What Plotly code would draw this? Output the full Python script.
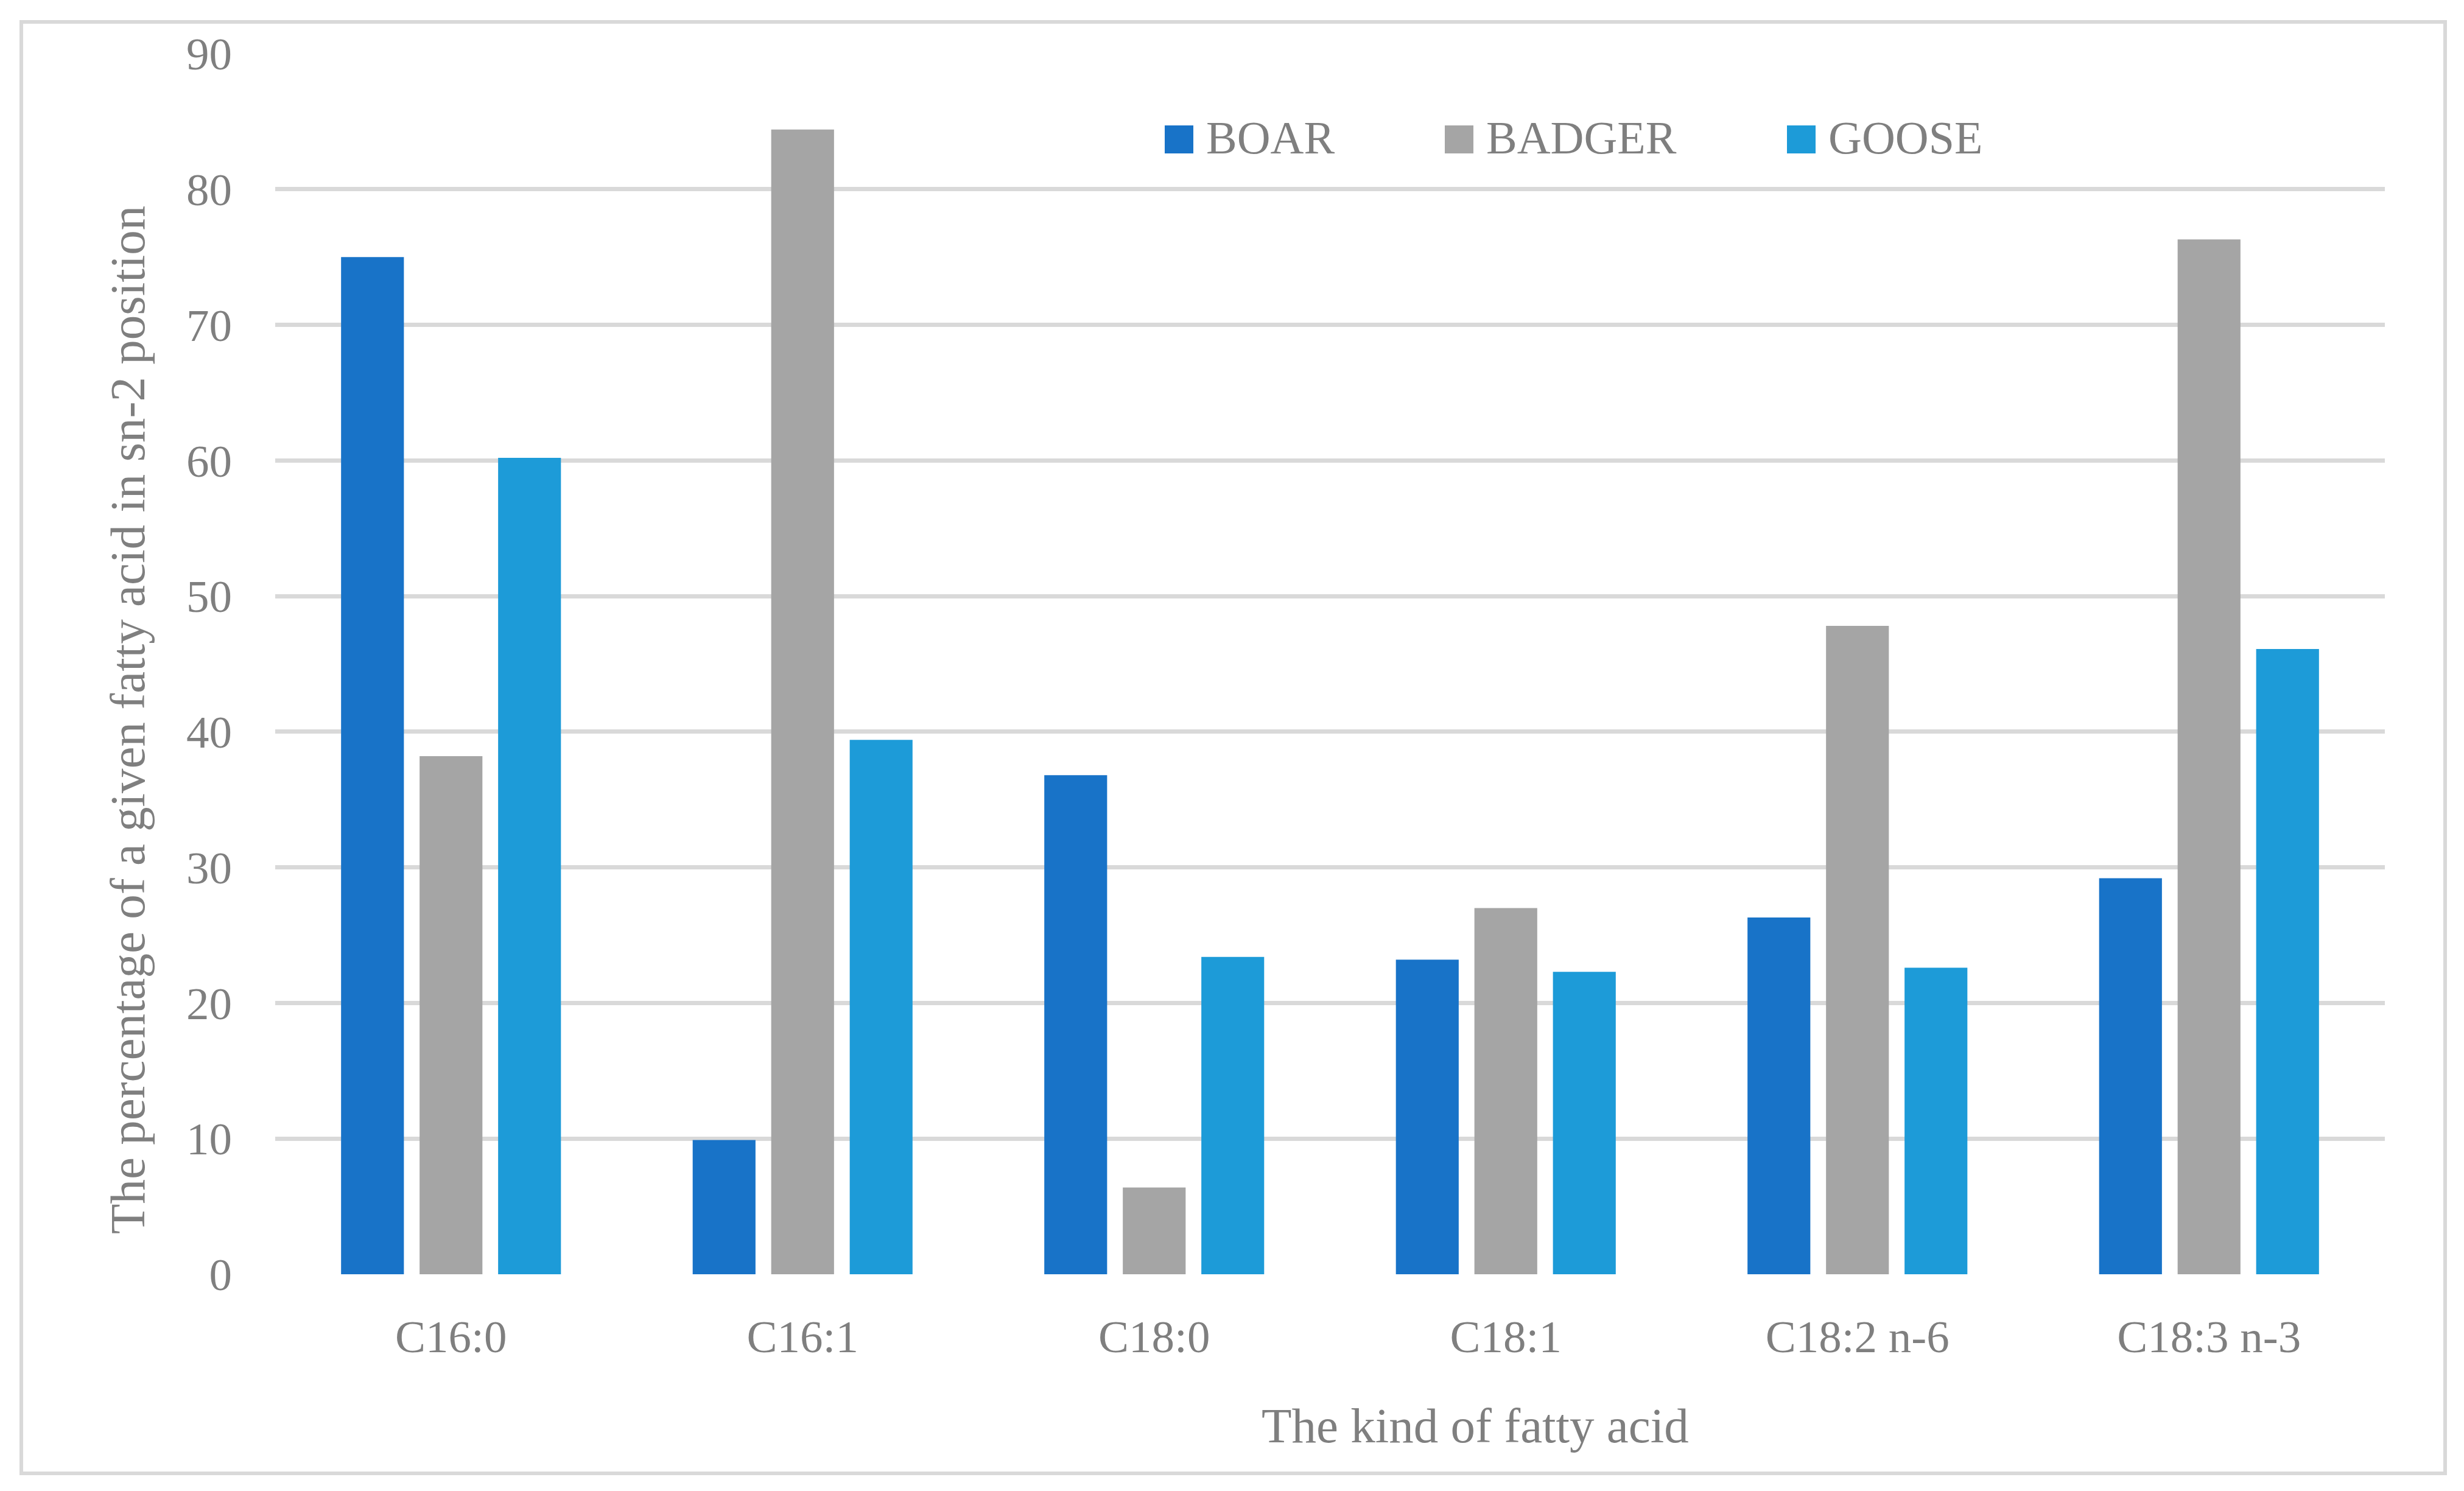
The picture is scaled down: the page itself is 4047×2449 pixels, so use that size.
import plotly.graph_objects as go

categories = ["C16:0", "C16:1", "C18:0", "C18:1", "C18:2 n-6", "C18:3 n-3"]
series_names = ["BOAR", "BADGER", "GOOSE"]
boar = [75.0, 9.9, 36.8, 23.2, 26.3, 29.2]
badger = [38.2, 84.4, 6.4, 27.0, 47.8, 76.3]
goose = [60.2, 39.4, 23.4, 22.3, 22.6, 46.1]
y_ticks = [0, 10, 20, 30, 40, 50, 60, 70, 80, 90]
colors = ["#1873C8", "#A5A5A5", "#1D9BD8"]

W, H = 4047, 2449
OFF = 8  # page body margin
# target plot area in screen pixels: x 452..3917, y 88..2093
L, T = 452 - OFF, 88 - OFF
R = W - (3917 - OFF)
B = H - (2093 - OFF)
pw, ph = W - L - R, H - T - B

def px_x(px):
    return (px - OFF - L) / pw

def px_y(py):
    return (H - B - (py - OFF)) / ph

FONT = "Palatino Linotype, Book Antiqua, Palatino, Liberation Serif, serif"
GREY = "#7F7F7F"

fig = go.Figure()
for name, vals, col in zip(series_names, [boar, badger, goose], colors):
    fig.add_trace(go.Bar(x=categories, y=vals, name=name, marker_color=col,
                         marker_line_width=0, showlegend=False))

# manual legend (large square swatches)
leg_sq_left = [1913, 2373, 2935]
shapes = []
annotations = []
for name, col, sx in zip(series_names, colors, leg_sq_left):
    shapes.append(dict(type="rect", xref="paper", yref="paper",
                       x0=px_x(sx), x1=px_x(sx + 47), y0=px_y(252), y1=px_y(206),
                       fillcolor=col, line_width=0))
    annotations.append(dict(text=name, xref="paper", yref="paper",
                            x=px_x(sx + 66), y=px_y(226), xanchor="left", yanchor="middle",
                            showarrow=False, font=dict(family=FONT, size=76, color=GREY)))

# chart border
shapes.append(dict(type="rect", xref="paper", yref="paper",
                   x0=px_x(35), x1=px_x(4016), y0=px_y(2420), y1=px_y(36),
                   line=dict(color="#D9D9D9", width=6), fillcolor="rgba(0,0,0,0)", layer="below"))

annotations.append(dict(text="The kind of fatty acid", xref="paper", yref="paper",
                        x=px_x(2423), y=px_y(2342), xanchor="center", yanchor="middle",
                        showarrow=False, font=dict(family=FONT, size=81, color=GREY)))
annotations.append(dict(text="The percentage of a given fatty acid in sn-2 position",
                        xref="paper", yref="paper", textangle=-90,
                        x=px_x(210), y=px_y(1183), xanchor="center", yanchor="middle",
                        showarrow=False, font=dict(family=FONT, size=81, color=GREY)))

fig.update_layout(
    width=W, height=H,
    margin=dict(l=L, r=R, t=T, b=B, autoexpand=False),
    paper_bgcolor="white", plot_bgcolor="white",
    barmode="group", bargap=0.33, bargroupgap=0.2,
    shapes=shapes, annotations=annotations,
    showlegend=False,
    font=dict(family=FONT, color=GREY),
)
fig.update_xaxes(showgrid=False, showline=False, zeroline=False,
                 tickfont=dict(family=FONT, size=75, color=GREY),
                 ticks="", ticklabelstandoff=52)
fig.update_yaxes(range=[0, 90], tickvals=y_ticks, showgrid=True,
                 gridcolor="#D9D9D9", gridwidth=7, zeroline=False, showline=False,
                 tickfont=dict(family=FONT, size=75, color=GREY),
                 ticks="", ticklabelstandoff=70)

fig.write_html("out.html")
